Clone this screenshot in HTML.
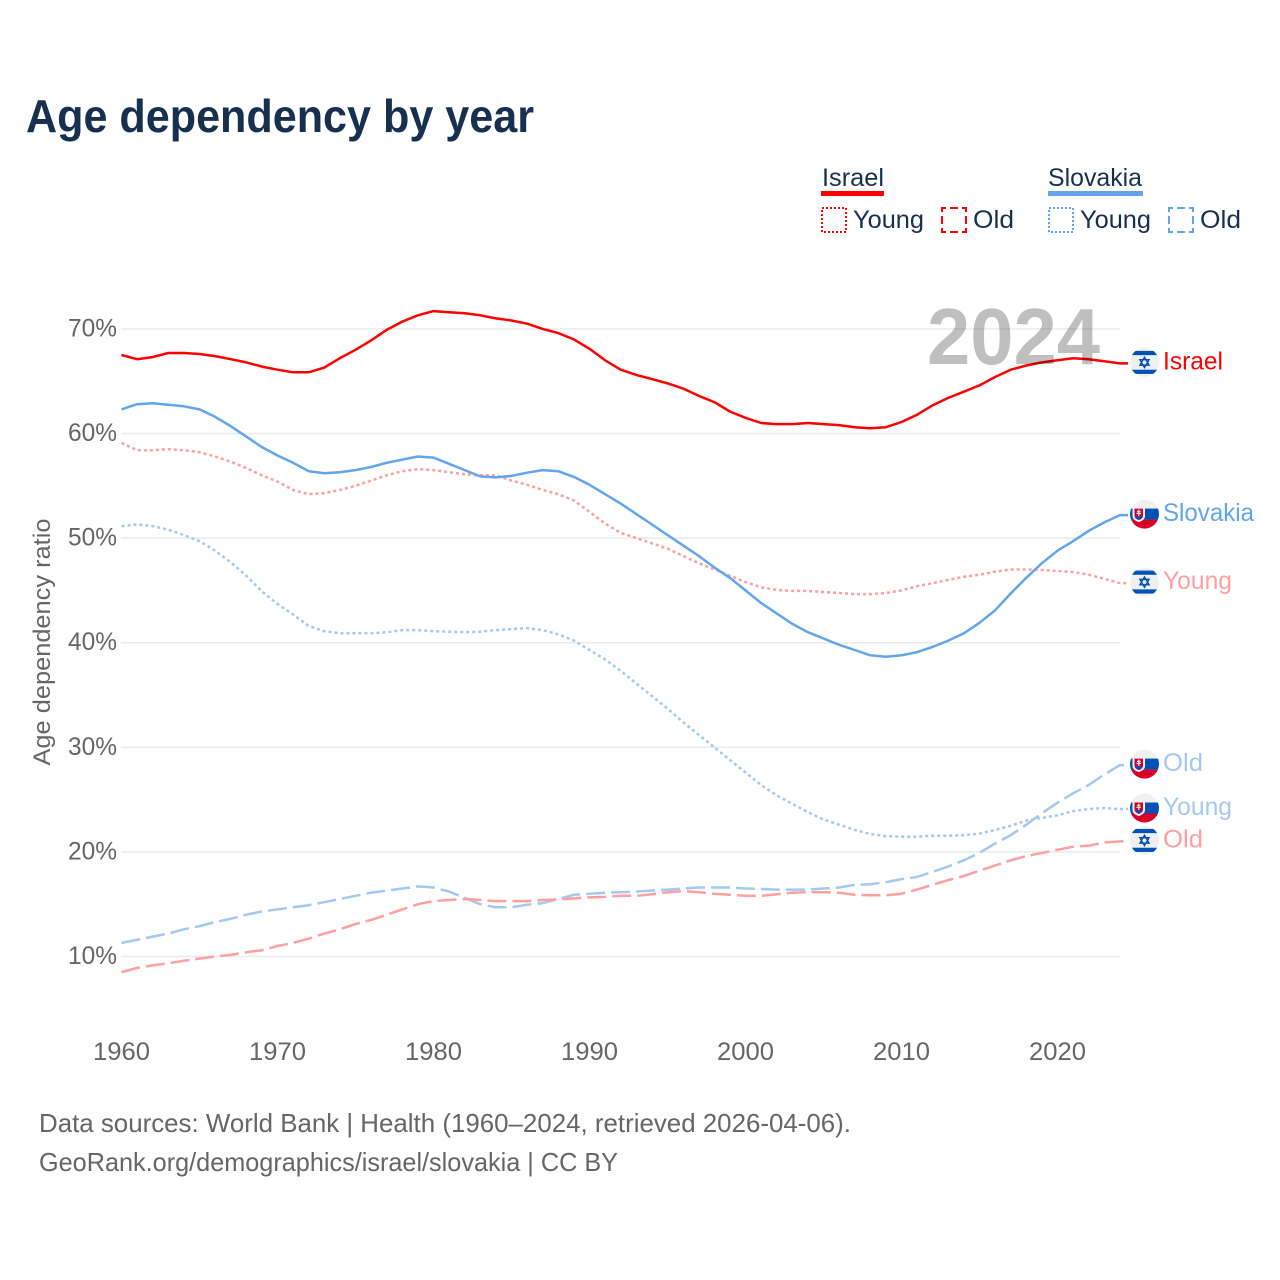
<!DOCTYPE html>
<html lang="en">
<head>
<meta charset="utf-8">
<title>Age dependency by year</title>
<style>
html,body{margin:0;padding:0;background:#fff;width:1280px;height:1280px;overflow:hidden}
svg{display:block}
text{font-family:"Liberation Sans",sans-serif}
</style>
</head>
<body>
<svg id="chart" width="1280" height="1280" viewBox="0 0 1280 1280" xmlns="http://www.w3.org/2000/svg">
  <defs><clipPath id="flag-clip"><circle r="14.5"/></clipPath></defs>
  <rect width="1280" height="1280" fill="#fff"/>
  <text x="26" y="132" font-size="46" font-weight="700" fill="#17304f" textLength="508" lengthAdjust="spacingAndGlyphs">Age dependency by year</text>

  <g>
    <text x="822" y="186" font-size="25" fill="#17304f" textLength="62" lengthAdjust="spacingAndGlyphs">Israel</text>
    <rect x="821" y="191" width="63" height="5" fill="#ff0000"/>
    <rect x="822" y="208" width="24" height="24" fill="none" stroke="#ff0000" stroke-width="2" stroke-dasharray="2 2"/>
    <text x="853" y="228" font-size="25" fill="#17304f" textLength="71" lengthAdjust="spacingAndGlyphs">Young</text>
    <rect x="942" y="208" width="24" height="24" fill="none" stroke="#ff0000" stroke-width="2" stroke-dasharray="8 4" stroke-dashoffset="4"/>
    <text x="973" y="228" font-size="25" fill="#17304f" textLength="41" lengthAdjust="spacingAndGlyphs">Old</text>
    <text x="1048" y="186" font-size="25" fill="#17304f" textLength="94" lengthAdjust="spacingAndGlyphs">Slovakia</text>
    <rect x="1048" y="191" width="95" height="5" fill="#62a5ec"/>
    <rect x="1049" y="208" width="24" height="24" fill="none" stroke="#62a5ec" stroke-width="2" stroke-dasharray="2 2"/>
    <text x="1080" y="228" font-size="25" fill="#17304f" textLength="71" lengthAdjust="spacingAndGlyphs">Young</text>
    <rect x="1169" y="208" width="24" height="24" fill="none" stroke="#62a5ec" stroke-width="2" stroke-dasharray="8 4" stroke-dashoffset="4"/>
    <text x="1200" y="228" font-size="25" fill="#17304f" textLength="41" lengthAdjust="spacingAndGlyphs">Old</text>
  </g>

  <g id="grid"></g>
  <g id="yticks"></g>
  <g id="xticks"></g>
  <text transform="translate(50,642) rotate(-90)" text-anchor="middle" font-size="24" fill="#666" textLength="247" lengthAdjust="spacingAndGlyphs">Age dependency ratio</text>

  <g id="series"></g>
  <g id="endlabels"></g>

  <text x="927" y="364" font-size="80" font-weight="700" fill="#000" fill-opacity="0.25" textLength="173" lengthAdjust="spacingAndGlyphs">2024</text>

  <text x="39" y="1132" font-size="26" fill="#666" textLength="812" lengthAdjust="spacingAndGlyphs">Data sources: World Bank | Health (1960–2024, retrieved 2026-04-06).</text>
  <text x="39" y="1171" font-size="26" fill="#666" textLength="579" lengthAdjust="spacingAndGlyphs">GeoRank.org/demographics/israel/slovakia | CC BY</text>
</svg>

<script>
const startYear = 1960;
const yTickValues = [10, 20, 30, 40, 50, 60, 70];
const xTickValues = [1960, 1970, 1980, 1990, 2000, 2010, 2020];

const israelTotal = [67.5,67.1,67.3,67.7,67.7,67.6,67.4,67.1,66.8,66.4,66.1,65.85,65.85,66.3,67.2,68,68.9,69.9,70.7,71.3,71.7,71.6,71.5,71.3,71,70.8,70.5,70,69.6,69,68.1,67,66.1,65.6,65.2,64.8,64.3,63.6,63,62.1,61.5,61,60.9,60.9,61,60.9,60.8,60.6,60.5,60.6,61.1,61.8,62.7,63.4,64,64.6,65.4,66.1,66.5,66.8,67,67.2,67.1,66.9,66.7];
const slovakiaTotal = [62.3,62.8,62.9,62.75,62.6,62.3,61.6,60.7,59.7,58.7,57.9,57.2,56.4,56.2,56.3,56.5,56.8,57.2,57.5,57.8,57.7,57.1,56.5,55.9,55.8,55.95,56.25,56.5,56.4,55.85,55.1,54.2,53.3,52.3,51.3,50.3,49.3,48.3,47.2,46.2,45,43.8,42.8,41.8,41,40.4,39.8,39.3,38.8,38.65,38.8,39.1,39.6,40.2,40.9,41.9,43.1,44.7,46.2,47.6,48.8,49.7,50.7,51.5,52.2];
const israelYoung = [59.1,58.4,58.4,58.5,58.4,58.2,57.8,57.3,56.7,56,55.4,54.6,54.2,54.3,54.6,55,55.5,56,56.4,56.6,56.5,56.3,56.1,56,56,55.5,55.1,54.6,54.2,53.6,52.5,51.4,50.5,50,49.5,49,48.3,47.6,47,46.4,45.8,45.3,45.05,44.95,44.95,44.85,44.75,44.65,44.65,44.75,45,45.4,45.7,46,46.3,46.5,46.8,47,47,46.95,46.85,46.75,46.5,46.1,45.7];
const slovakiaYoung = [51.15,51.3,51.15,50.8,50.3,49.7,48.8,47.7,46.4,44.9,43.7,42.7,41.6,41.1,40.9,40.9,40.9,41,41.2,41.2,41.1,41.05,41,41.05,41.2,41.3,41.4,41.2,40.8,40.2,39.3,38.4,37.3,36.1,34.9,33.7,32.4,31.2,30,28.8,27.6,26.4,25.4,24.6,23.8,23.1,22.6,22.1,21.7,21.5,21.45,21.45,21.55,21.55,21.6,21.75,22.1,22.5,23,23.25,23.5,23.9,24.1,24.2,24.1];
const israelOld = [8.5,8.9,9.15,9.35,9.6,9.8,10,10.15,10.4,10.6,11,11.3,11.7,12.2,12.6,13.1,13.5,14,14.5,15,15.3,15.4,15.5,15.4,15.3,15.3,15.3,15.4,15.45,15.55,15.65,15.7,15.8,15.8,15.95,16.15,16.25,16.15,16,15.9,15.8,15.8,15.95,16.1,16.15,16.15,16.1,15.9,15.85,15.85,16,16.4,16.85,17.3,17.7,18.2,18.7,19.2,19.6,19.9,20.2,20.5,20.6,20.9,21];
const slovakiaOld = [11.3,11.6,11.9,12.2,12.6,12.9,13.3,13.6,14,14.3,14.5,14.7,14.9,15.2,15.5,15.8,16.1,16.3,16.5,16.7,16.6,16.2,15.6,15,14.7,14.7,14.95,15.1,15.5,15.9,16,16.1,16.15,16.2,16.3,16.4,16.5,16.6,16.6,16.6,16.5,16.45,16.4,16.4,16.4,16.5,16.6,16.85,16.9,17.1,17.4,17.6,18.1,18.6,19.2,19.9,20.8,21.6,22.6,23.7,24.7,25.6,26.4,27.4,28.3];

const NS = 'http://www.w3.org/2000/svg';
function xScale(year) { return 121.5 + (year - startYear) * 15.6; }
function yScale(v) { return 956.5 - (v - 10) * 10.46; }
function make(tag, attrs, parent) {
  const el = document.createElementNS(NS, tag);
  for (const k in attrs) el.setAttribute(k, attrs[k]);
  parent.appendChild(el);
  return el;
}

const grid = document.getElementById('grid');
const yticks = document.getElementById('yticks');
yTickValues.forEach(function (v) {
  const line = make('line', { x1: 121, x2: 1120, y1: yScale(v), y2: yScale(v), stroke: '#ebebeb', 'stroke-width': 1.5 }, grid);
  
  
  const label = make('text', { x: 117, y: yScale(v) + 7.5, 'text-anchor': 'end', 'font-size': 25, fill: '#666', textLength: 49, lengthAdjust: 'spacingAndGlyphs' }, yticks);
  label.textContent = v + '%';
  
  
});

const xticks = document.getElementById('xticks');
xTickValues.forEach(function (yr) {
  const label = make('text', { x: xScale(yr), y: 1060, 'text-anchor': 'middle', 'font-size': 25, fill: '#666', textLength: 57, lengthAdjust: 'spacingAndGlyphs' }, xticks);
  label.textContent = yr;
  
  
});

const seriesGroup = document.getElementById('series');
const labelGroup = document.getElementById('endlabels');

function drawLine(values, color, dash, name) {
  const pts = values.map(function (v, i) { return xScale(startYear + i).toFixed(1) + ',' + yScale(v).toFixed(1); });
  const last = values[values.length - 1];
  pts.push('1128,' + yScale(last).toFixed(1));
  const attrs = { points: pts.join(' '), fill: 'none', stroke: color, 'stroke-width': 2.5, 'stroke-linejoin': 'round' };
  if (dash) attrs['stroke-dasharray'] = dash;
  const line = make('polyline', attrs, seriesGroup);
  
  
}

function drawIsraelFlag(cx, cy, parent) {
  const g = make('g', { transform: 'translate(' + cx + ',' + cy + ')', 'clip-path': 'url(#flag-clip)' }, parent);
  
  
  make('circle', { r: 14.5, fill: '#f0f0f0' }, g);
  make('rect', { x: -15, y: -11.5, width: 30, height: 4.2, fill: '#0052b4' }, g);
  make('rect', { x: -15, y: 7.3, width: 30, height: 4.2, fill: '#0052b4' }, g);
  make('path', { d: 'M0,-5.2 L4.6,2.7 L-4.6,2.7 Z M0,5.2 L-4.6,-2.7 L4.6,-2.7 Z', fill: 'none', stroke: '#0052b4', 'stroke-width': 1.4 }, g);
}

function drawSlovakiaFlag(cx, cy, parent) {
  const g = make('g', { transform: 'translate(' + cx + ',' + cy + ')', 'clip-path': 'url(#flag-clip)' }, parent);
  
  
  make('circle', { r: 14.5, fill: '#f0f0f0' }, g);
  make('rect', { x: -15, y: -5.5, width: 30, height: 11, fill: '#0052b4' }, g);
  make('rect', { x: -15, y: 5.5, width: 30, height: 10, fill: '#d80027' }, g);
  make('path', { d: 'M-12,-7 L0.5,-7 L0.5,2 Q0.5,6 -5.7,8 Q-12,6 -12,2 Z', fill: '#f0f0f0' }, g);
  make('path', { d: 'M-10,-5.5 L-1.5,-5.5 L-1.5,1.5 Q-1.5,4.5 -5.7,6 Q-10,4.5 -10,1.5 Z', fill: '#d80027' }, g);
  make('path', { d: 'M-5.7,-4.5 L-5.7,2 M-7.5,-2.7 L-4,-2.7 M-8,-0.7 L-3.5,-0.7', stroke: '#f0f0f0', 'stroke-width': 1.2, fill: 'none' }, g);
  make('path', { d: 'M-9.5,3 Q-5.7,0.5 -2,3 L-3.5,4.5 L-5.7,5.7 L-8,4.5 Z', fill: '#0052b4' }, g);
}

function drawEndLabel(values, text, color, flag, width, name) {
  const cy = yScale(values[values.length - 1]) - 1;
  flag(1144.5, cy, labelGroup);
  const label = make('text', { x: 1163, y: cy + 7, 'font-size': 25, fill: color, textLength: width, lengthAdjust: 'spacingAndGlyphs' }, labelGroup);
  label.textContent = text;
  
  
}

drawLine(slovakiaYoung, '#a3c9f3', '3 3', 'slovakia-young-line');
drawLine(slovakiaOld, '#a3c9f3', '19 6', 'slovakia-old-line');
drawLine(israelYoung, '#ff9f9f', '3 3', 'israel-young-line');
drawLine(israelOld, '#ff9f9f', '19 6', 'israel-old-line');
drawLine(slovakiaTotal, '#62a5ec', null, 'slovakia-total-line');
drawLine(israelTotal, '#ff0000', null, 'israel-total-line');

drawEndLabel(israelTotal, 'Israel', '#ff0000', drawIsraelFlag, 60, 'end-label-israel');
drawEndLabel(slovakiaTotal, 'Slovakia', '#62a5ec', drawSlovakiaFlag, 91, 'end-label-slovakia');
drawEndLabel(israelYoung, 'Young', '#ff9f9f', drawIsraelFlag, 69, 'end-label-israel-young');
drawEndLabel(slovakiaOld, 'Old', '#a3c9f3', drawSlovakiaFlag, 40, 'end-label-slovakia-old');
drawEndLabel(slovakiaYoung, 'Young', '#a3c9f3', drawSlovakiaFlag, 69, 'end-label-slovakia-young');
drawEndLabel(israelOld, 'Old', '#ff9f9f', drawIsraelFlag, 40, 'end-label-israel-old');
</script>
</body>
</html>
